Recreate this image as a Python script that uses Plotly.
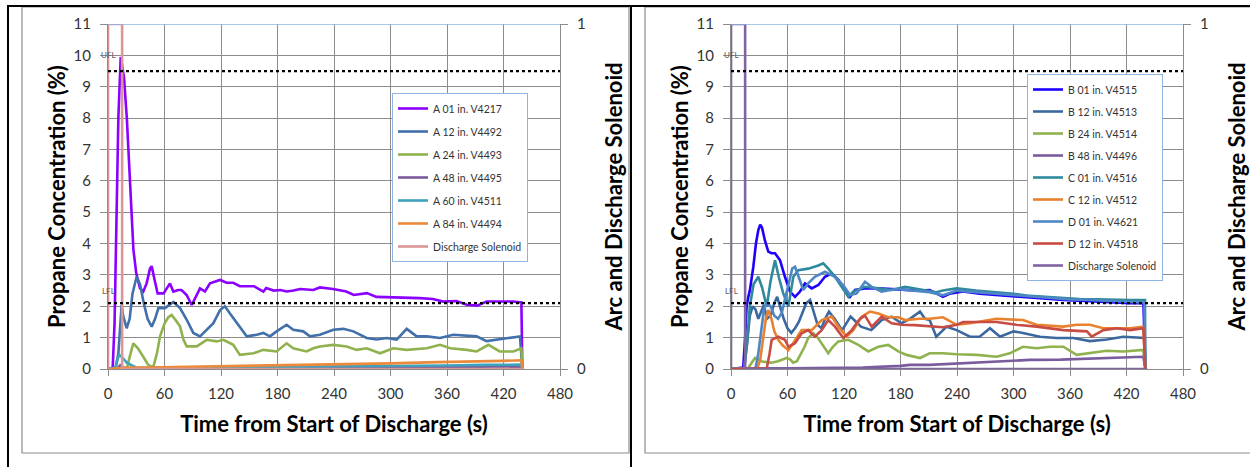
import plotly.graph_objects as go

W, H = 1250, 467

# ---------------- Left chart data (Time s, Propane %) ----------------
a01_t = [0, 5, 7, 9, 11, 13.5, 17, 20, 23, 25, 27, 30, 34, 37.5, 41, 44.6, 46.4, 49.5, 52.7, 59, 65.8, 69.4, 74.7, 78, 83.5, 88.9, 94.2, 97.7, 103, 108.3, 119, 126, 133, 140, 155, 165, 168, 176, 183, 190, 197, 204, 218, 225, 239, 253, 261, 275, 285, 303, 317, 331, 345, 356, 370, 381, 392, 402, 416, 430, 439, 440]
a01_v = [0, 0.05, 1.5, 4.4, 8.0, 9.95, 9.3, 8.0, 6.2, 4.9, 3.8, 3.05, 2.57, 2.47, 2.73, 3.2, 3.28, 2.84, 2.41, 2.41, 2.73, 2.47, 2.52, 2.52, 2.36, 2.04, 2.36, 2.57, 2.47, 2.73, 2.84, 2.75, 2.75, 2.64, 2.64, 2.47, 2.58, 2.5, 2.52, 2.47, 2.5, 2.55, 2.52, 2.6, 2.55, 2.47, 2.36, 2.42, 2.3, 2.29, 2.26, 2.26, 2.23, 2.15, 2.17, 2.05, 2.02, 2.15, 2.15, 2.15, 2.12, 0]

a12_t = [0, 8, 11, 13, 14.5, 16, 19.8, 23, 26, 30.4, 34, 38, 42, 46.4, 50, 53.5, 60.5, 69.4, 76.5, 83.6, 90.6, 97.7, 104.8, 111.9, 119, 124.2, 129.5, 140, 147.3, 158, 165, 172, 179, 189.7, 196.7, 207.3, 214.5, 225, 239.3, 250, 260.6, 274.7, 285.3, 296, 306.6, 317.2, 327.8, 338.5, 352.6, 366.7, 381, 391.5, 402, 412.8, 427, 437.5, 440]
a12_v = [0, 0.02, 0.5, 1.6, 2.04, 1.7, 1.3, 1.6, 2.4, 2.94, 2.7, 2.1, 1.6, 1.35, 1.6, 1.94, 1.94, 2.14, 1.94, 1.57, 1.15, 1.04, 1.25, 1.46, 1.88, 2.0, 1.77, 1.35, 1.04, 1.09, 1.15, 1.04, 1.2, 1.41, 1.25, 1.2, 1.04, 1.09, 1.25, 1.28, 1.2, 0.99, 0.94, 0.99, 0.94, 1.28, 1.04, 1.04, 0.99, 1.09, 1.06, 1.04, 0.89, 0.94, 0.99, 1.04, 0]

a24_t = [0, 20, 24, 26.9, 32, 38, 42.8, 48, 52, 55.2, 60, 64, 67.6, 72, 76.5, 80, 83.6, 94.2, 104.8, 115.4, 122.5, 133, 140, 154.6, 165, 179, 189.7, 196.7, 211, 218, 225, 239, 253.5, 264, 274.7, 288.9, 302.9, 317, 338.5, 352.6, 363.5, 381, 391.5, 404, 416, 430.5, 439, 440]
a24_v = [0, 0.02, 0.5, 0.82, 0.65, 0.35, 0.13, 0.05, 0.5, 1.03, 1.45, 1.65, 1.72, 1.55, 1.36, 0.95, 0.72, 0.72, 0.93, 0.88, 0.93, 0.77, 0.45, 0.5, 0.61, 0.56, 0.82, 0.66, 0.56, 0.66, 0.72, 0.77, 0.72, 0.61, 0.66, 0.5, 0.66, 0.61, 0.66, 0.77, 0.66, 0.61, 0.56, 0.77, 0.56, 0.56, 0.66, 0]

a48_t = [0, 10, 13, 16, 20, 60, 120, 200, 300, 400, 439, 440]
a48_v = [0, 0.02, 0.12, 0.05, 0.02, 0.02, 0.03, 0.04, 0.05, 0.07, 0.08, 0]

a60_t = [0, 8, 10, 12, 14, 17, 20, 25, 30, 60, 120, 200, 300, 360, 400, 439, 440]
a60_v = [0, 0.05, 0.3, 0.45, 0.4, 0.3, 0.2, 0.12, 0.05, 0.04, 0.05, 0.07, 0.09, 0.11, 0.13, 0.14, 0]

a84_t = [0, 10, 20, 40, 60, 100, 150, 200, 250, 300, 350, 400, 420, 439, 440]
a84_v = [0, 0.03, 0.05, 0.05, 0.06, 0.08, 0.1, 0.12, 0.15, 0.18, 0.22, 0.24, 0.26, 0.28, 0]

sol_left_t = [0, 0, 15, 15, 442]
sol_left_v = [0, 1, 1, 0, 0]

# ---------------- Right chart data ----------------
b01_t = [0, 13, 15, 16.6, 18.4, 20, 23.7, 26.5, 29, 31, 33, 36, 39.6, 43, 46.7, 52, 57.3, 62.6, 68, 73.3, 78.6, 85.7, 92.8, 99.8, 107, 114, 121, 126.4, 131.7, 142.3, 156.5, 170.6, 184.8, 200, 211, 218, 225, 232, 246.5, 264, 282, 300, 317.5, 335, 353, 370, 388, 405, 423.7, 438, 440]
b01_v = [0, 0.05, 1.0, 2.0, 2.3, 2.5, 3.26, 4.0, 4.43, 4.6, 4.5, 4.1, 3.74, 3.69, 3.69, 3.47, 2.94, 2.47, 2.3, 2.47, 2.73, 2.57, 2.68, 2.94, 3.05, 2.84, 2.52, 2.3, 2.52, 2.57, 2.57, 2.54, 2.52, 2.5, 2.52, 2.4, 2.3, 2.4, 2.47, 2.4, 2.36, 2.3, 2.26, 2.24, 2.2, 2.18, 2.15, 2.12, 2.1, 2.1, 0]

b12_t = [0, 14, 17, 20, 23, 26, 29, 32, 35, 38, 42, 46, 49, 52, 56, 60, 64, 68, 72, 76, 80, 84, 88, 92, 96, 100, 104, 110, 118, 123, 127, 133, 138, 149, 160, 170.6, 181, 190, 200.7, 206, 211, 218, 229, 239.7, 253.8, 264, 275, 285.7, 300, 310, 328, 345.9, 363.5, 381, 399, 416.6, 430.7, 439, 440]
b12_v = [0, 0.02, 0.8, 1.7, 2.0, 1.9, 1.6, 1.8, 2.05, 1.6, 1.7, 2.1, 2.3, 2.0, 1.6, 1.3, 1.15, 1.3, 1.5, 1.8, 2.1, 2.2, 1.8, 1.4, 1.3, 1.6, 1.83, 1.6, 1.24, 1.5, 1.67, 1.5, 1.35, 1.24, 1.56, 1.67, 1.46, 1.6, 1.83, 1.6, 1.56, 1.03, 1.35, 1.24, 1.03, 1.03, 1.3, 1.03, 1.2, 1.15, 1.03, 0.99, 0.99, 0.89, 0.94, 1.03, 0.99, 0.99, 0]

b24_t = [0, 18, 22, 25.5, 29, 33, 38, 43, 50, 55, 59, 63, 66, 70, 73, 78, 82, 87.4, 92, 96.3, 103.3, 108, 114, 124.6, 135.2, 145.8, 156.5, 167, 177.7, 186.5, 200.7, 211, 225, 239.7, 261, 282, 296, 310, 324.6, 338.8, 353, 367, 381, 399, 416.6, 437.9, 440]
b24_v = [0, 0.02, 0.2, 0.35, 0.3, 0.24, 0.22, 0.2, 0.25, 0.3, 0.35, 0.3, 0.2, 0.25, 0.41, 0.7, 0.99, 1.14, 1.0, 0.82, 0.5, 0.7, 0.88, 0.93, 0.77, 0.56, 0.71, 0.77, 0.56, 0.45, 0.35, 0.5, 0.5, 0.47, 0.45, 0.39, 0.5, 0.71, 0.66, 0.71, 0.71, 0.45, 0.5, 0.58, 0.56, 0.61, 0]

b48_t = [0, 20, 60, 100, 140, 180, 190, 211, 246, 280, 317.5, 350, 388, 410, 437.9, 440]
b48_v = [0, 0.02, 0.02, 0.03, 0.05, 0.1, 0.13, 0.13, 0.18, 0.22, 0.29, 0.3, 0.34, 0.36, 0.39, 0]

c01_t = [0, 14, 17, 20, 24, 29, 33, 37.9, 42, 46.7, 51, 55.5, 60.9, 66.2, 71.5, 82, 92.7, 98, 103.3, 110.4, 117.5, 124.6, 129.9, 142.3, 156.5, 170.6, 184.8, 200, 211, 218, 225, 239.7, 260, 282, 300, 317.5, 335, 353, 370, 388, 405, 423.7, 439.6, 440]
c01_v = [0, 0.02, 0.8, 2.0, 2.7, 2.94, 2.6, 1.99, 2.8, 3.47, 2.9, 2.41, 1.99, 2.94, 3.15, 3.2, 3.3, 3.37, 3.2, 2.94, 2.62, 2.3, 2.47, 2.62, 2.57, 2.52, 2.62, 2.55, 2.5, 2.45, 2.5, 2.57, 2.5, 2.45, 2.4, 2.33, 2.3, 2.25, 2.23, 2.22, 2.2, 2.2, 2.2, 0]

c12_t = [0, 28, 31, 34, 37, 39.6, 43, 46, 50.2, 55, 61, 66, 75, 85.7, 96.3, 107, 114, 122.8, 129.9, 138.8, 147.6, 156.5, 167, 177.7, 184.8, 200, 211, 225, 239.7, 253.8, 282, 310, 324.6, 353, 367, 381, 395.5, 409.7, 423.7, 437.9, 440]
c12_v = [0, 0.02, 0.3, 1.0, 1.6, 1.88, 1.6, 1.2, 0.93, 0.75, 0.6, 0.82, 1.24, 1.24, 1.56, 1.67, 1.35, 1.03, 1.24, 1.67, 1.83, 1.77, 1.65, 1.65, 1.56, 1.6, 1.6, 1.65, 1.41, 1.46, 1.6, 1.56, 1.41, 1.35, 1.41, 1.41, 1.3, 1.3, 1.3, 1.35, 0]

d01_t = [0, 26, 29, 32, 35, 38, 42, 46, 50, 54, 58, 62, 65, 68, 72, 76.8, 82, 89, 99.8, 110.4, 119.3, 126.4, 133.5, 142.3, 149.4, 160, 175, 190, 211, 225, 240, 260, 282, 300, 320, 340, 360, 380, 400, 420, 439, 440]
d01_v = [0, 0.02, 0.5, 1.3, 1.9, 2.1, 2.0, 1.7, 1.6, 1.8, 2.3, 2.9, 3.2, 3.26, 2.9, 2.52, 2.73, 2.94, 3.1, 2.94, 2.67, 2.36, 2.41, 2.78, 2.62, 2.47, 2.55, 2.5, 2.45, 2.35, 2.5, 2.45, 2.4, 2.35, 2.3, 2.25, 2.22, 2.2, 2.18, 2.15, 2.12, 0]

d12_t = [0, 38, 41, 43.2, 50.2, 57.3, 61, 68, 75, 82, 89, 96.3, 103.3, 110.4, 119.3, 128.2, 137, 142.3, 149.4, 160, 170.6, 181, 195, 211, 225, 239.7, 246.5, 282, 303, 324.6, 353, 378, 383, 395.5, 409.7, 423.7, 437.9, 440, 442]
d12_v = [0, 0.02, 0.5, 0.93, 1.03, 0.93, 0.71, 0.82, 1.14, 1.24, 1.03, 1.24, 1.56, 1.35, 0.99, 1.24, 1.6, 1.7, 1.35, 1.67, 1.46, 1.41, 1.4, 1.35, 1.33, 1.41, 1.5, 1.5, 1.41, 1.35, 1.24, 1.2, 1.03, 1.24, 1.3, 1.24, 1.3, 0, 0]

sol_right_t = [0, 0, 15, 15, 440]
sol_right_v = [0, 1, 1, 0, 0]

UFL = 9.5
LFL = 2.1
x_ticks = [0, 60, 120, 180, 240, 300, 360, 420, 480]
y_ticks = list(range(0, 12))

left_series = [
    ("A 01 in. V4217", a01_t, a01_v, "#8B00FF"),
    ("A 12 in. V4492", a12_t, a12_v, "#4170AB"),
    ("A 24 in. V4493", a24_t, a24_v, "#8FB24E"),
    ("A 48 in. V4495", a48_t, a48_v, "#7A5C9E"),
    ("A 60 in. V4511", a60_t, a60_v, "#3FA2BD"),
    ("A 84 in. V4494", a84_t, a84_v, "#EC8A3C"),
]
right_series = [
    ("B 01 in. V4515", b01_t, b01_v, "#1F00FF"),
    ("B 12 in. V4513", b12_t, b12_v, "#3C68A0"),
    ("B 24 in. V4514", b24_t, b24_v, "#8FB24E"),
    ("B 48 in. V4496", b48_t, b48_v, "#7A5C9E"),
    ("C 01 in. V4516", c01_t, c01_v, "#2F8A9E"),
    ("C 12 in. V4512", c12_t, c12_v, "#E8822E"),
    ("D 01 in. V4621", d01_t, d01_v, "#4F86C6"),
    ("D 12 in. V4518", d12_t, d12_v, "#C84B44"),
]

FONT = "Lato"
fig = go.Figure()

for i, (name, t, v, c) in enumerate(left_series):
    fig.add_trace(go.Scatter(x=t, y=v, mode="lines", name=name, line=dict(color=c, width=2.6),
                             xaxis="x", yaxis="y", legend="legend", legendgroup="L%d" % i))
fig.add_trace(go.Scatter(x=sol_left_t, y=sol_left_v, mode="lines", name="Discharge Solenoid",
                         line=dict(color="#D99694", width=2.6), xaxis="x", yaxis="y3",
                         legend="legend", legendgroup="Lsol"))
for i, (name, t, v, c) in enumerate(right_series):
    fig.add_trace(go.Scatter(x=t, y=v, mode="lines", name=name, line=dict(color=c, width=2.6),
                             xaxis="x2", yaxis="y2", legend="legend2", legendgroup="R%d" % i))
fig.add_trace(go.Scatter(x=sol_right_t, y=sol_right_v, mode="lines", name="Discharge Solenoid",
                         line=dict(color="#8064A2", width=2.6), xaxis="x2", yaxis="y4",
                         legend="legend2", legendgroup="Rsol"))

GRID = "#8C8C8C"
ydom = [(H - 369) / H, (H - 24) / H]
tickfont = dict(family=FONT, size=15, color="#333333")
titlefont = dict(family=FONT, size=22, color="#000000")

def xax(domain, anchor):
    return dict(domain=domain, anchor=anchor, range=[0, 480], tickvals=x_ticks, automargin=False,
                showgrid=True, gridcolor=GRID, gridwidth=1, zeroline=False,
                showline=True, linecolor=GRID, linewidth=1, ticks="outside", ticklen=6,
                tickcolor=GRID, tickfont=tickfont, ticklabelstandoff=5,
                title=dict(text="<b>Time from Start of Discharge (s)</b>", font=titlefont, standoff=15))

def yax(domain, anchor):
    return dict(domain=domain, anchor=anchor, range=[0, 11], tickvals=y_ticks, automargin=False,
                showgrid=True, gridcolor=GRID, gridwidth=1, zeroline=False,
                showline=True, linecolor=GRID, linewidth=1, ticks="outside", ticklen=7,
                tickcolor=GRID, tickfont=tickfont, ticklabelstandoff=6,
                title=dict(text="<b>Propane Concentration (%)</b>", font=titlefont, standoff=1))

def y2ax(overlay, anchor):
    return dict(overlaying=overlay, anchor=anchor, side="right", range=[0, 1], tickvals=[0, 1],
                automargin=False, ticklabelstandoff=6,
                showgrid=False, zeroline=False, showline=True, linecolor=GRID, linewidth=1,
                ticks="outside", ticklen=7, tickcolor=GRID, tickfont=tickfont,
                title=dict(text="<b>Arc and Discharge Solenoid</b>", font=titlefont, standoff=21))

xl = [108 / W, 560 / W]
xr = [731 / W, 1183 / W]

legfont = dict(family=FONT, size=10.5, color="#333333")
fig.update_layout(
    width=W, height=H, margin=dict(l=0, r=0, t=0, b=0, autoexpand=False),
    paper_bgcolor="white", plot_bgcolor="white",
    xaxis=xax(xl, "y"), yaxis=yax(ydom, "x"),
    xaxis2=xax(xr, "y2"), yaxis2=yax(ydom, "x2"),
    yaxis3=y2ax("y", "x"), yaxis4=y2ax("y2", "x2"),
    legend=dict(x=392 / W, y=1 - 93 / H, xanchor="left", yanchor="top", bgcolor="white",
                bordercolor="#8EB4E3", borderwidth=1, font=legfont, tracegroupgap=4,
                traceorder="grouped", itemwidth=30),
    legend2=dict(x=1027 / W, y=1 - 74 / H, xanchor="left", yanchor="top", bgcolor="white",
                 bordercolor="#8EB4E3", borderwidth=1, font=legfont, tracegroupgap=3,
                 traceorder="grouped", itemwidth=30),
    showlegend=True,
)

shapes = []
for xa, ya in (("x", "y"), ("x2", "y2")):
    for lvl in (UFL, LFL):
        shapes.append(dict(type="line", xref=xa + " domain", yref=ya, x0=0, x1=1, y0=lvl, y1=lvl,
                           line=dict(color="black", width=2.2, dash="dot"), layer="above"))
    shapes.append(dict(type="line", xref=xa + " domain", yref=ya, x0=0, x1=1, y0=11, y1=11,
                       line=dict(color="#8EB4E3", width=1.5), layer="above"))

def px(x, y):
    return x / W, 1 - y / H

# chart-area gray borders
for x0, x1 in ((22, 629), (645, 1252)):
    a = px(x0, 7); b = px(x1, 453)
    shapes.append(dict(type="rect", xref="paper", yref="paper", x0=a[0], x1=b[0], y0=b[1], y1=a[1],
                       line=dict(color="#8C8C8C", width=1.2), fillcolor="rgba(0,0,0,0)", layer="below"))
# table borders (black)
shapes.append(dict(type="line", xref="paper", yref="paper", x0=7 / W, x1=1, y0=1 - 6 / H, y1=1 - 6 / H,
                   line=dict(color="black", width=2)))
for xv in (8, 631):
    shapes.append(dict(type="line", xref="paper", yref="paper", x0=xv / W, x1=xv / W, y0=0, y1=1 - 6 / H,
                       line=dict(color="black", width=2)))
fig.update_layout(shapes=shapes)

anns = []
for xa, ya in (("x", "y"), ("x2", "y2")):
    anns.append(dict(x=0, y=UFL + 0.5, xref=xa, yref=ya, text="UFL", showarrow=False,
                     font=dict(family=FONT, size=8, color="#595959"), xanchor="center", yanchor="middle"))
    anns.append(dict(x=0, y=LFL + 0.4, xref=xa, yref=ya, text="LFL", showarrow=False,
                     font=dict(family=FONT, size=8, color="#595959"), xanchor="center", yanchor="middle"))
fig.update_layout(annotations=anns)

fig.write_html("out.html", config={"displayModeBar": False},
               post_script="document.body.style.margin='0px';document.body.style.overflow='hidden';")
